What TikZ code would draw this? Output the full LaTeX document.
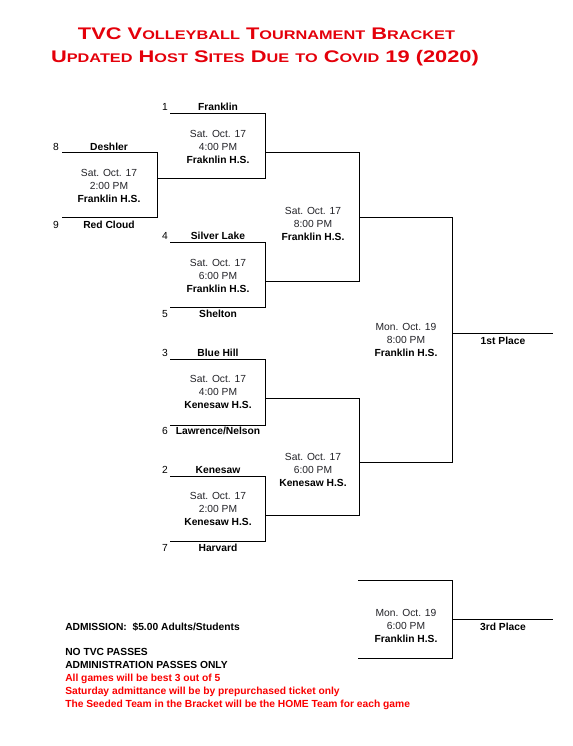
\documentclass[tikz,border=0pt]{standalone}
\usepackage{fontspec}
\setmainfont{Liberation Sans}
\usepackage{graphicx}
\definecolor{titlered}{RGB}{228,0,10}
\definecolor{notered}{RGB}{250,0,0}
\definecolor{dategray}{RGB}{35,35,40}
\newcommand\BigC[1]{{\fontsize{12.6}{14}\selectfont #1}}
\newcommand\SmC[1]{{\fontsize{9.4}{14}\selectfont #1}}
\begin{document}
\begin{tikzpicture}[x=0.75pt,y=-0.75pt,
  br/.style={line width=0.75pt,line join=miter},
  lbl/.style={inner sep=0pt,anchor=base,font=\fontsize{7.7}{9}\selectfont\bfseries},
  seed/.style={inner sep=0pt,anchor=base,font=\fontsize{7.7}{9}\selectfont},
  game/.style={inner sep=0pt,anchor=center,align=center,font=\fontsize{7.7}{9.75}\selectfont},
  note/.style={inner sep=0pt,anchor=base west,font=\fontsize{7.7}{9}\selectfont\bfseries},
  ttl/.style={inner sep=0pt,anchor=base,text=titlered,font=\fontsize{12.6}{14}\selectfont\bfseries}]
\useasboundingbox (0,0) rectangle (573,746);
% title
\node[ttl] (title1) at (266.5,39) {\scalebox{1.3}[1]{\BigC{TVC V}\SmC{OLLEYBALL} \BigC{T}\SmC{OURNAMENT} \BigC{B}\SmC{RACKET}}};
\node[ttl] (title2) at (265,62) {\scalebox{1.3}[1]{\BigC{U}\SmC{PDATED} \BigC{H}\SmC{OST} \BigC{S}\SmC{ITES} \BigC{D}\SmC{UE} \SmC{TO} \BigC{C}\SmC{OVID} \BigC{19 (2020)}}};
% bracket coordinates
\coordinate (A1) at (62,152); \coordinate (A2) at (157,152); \coordinate (A3) at (157,217); \coordinate (A4) at (62,217);
\coordinate (B1) at (170,113); \coordinate (B2) at (265,113); \coordinate (B3) at (265,178); \coordinate (B4) at (157,178);
\coordinate (Bo) at (265,152);
\coordinate (C1) at (170,242); \coordinate (C2) at (265,242); \coordinate (C3) at (265,307); \coordinate (C4) at (170,307);
\coordinate (Co) at (265,281);
\coordinate (Q1) at (359,152); \coordinate (Q2) at (359,281); \coordinate (Qo) at (359,217);
\coordinate (D1) at (170,359); \coordinate (D2) at (265,359); \coordinate (D3) at (265,425); \coordinate (D4) at (170,425);
\coordinate (Do) at (265,398);
\coordinate (E1) at (170,476); \coordinate (E2) at (265,476); \coordinate (E3) at (265,541); \coordinate (E4) at (170,541);
\coordinate (Eo) at (265,515);
\coordinate (R1) at (359,398); \coordinate (R2) at (359,515); \coordinate (Ro) at (359,462);
\coordinate (S1) at (452,217); \coordinate (S2) at (452,462); \coordinate (So) at (452,333); \coordinate (Se) at (553,333);
\coordinate (T1) at (358,580); \coordinate (T2) at (452,580); \coordinate (T3) at (452,658); \coordinate (T4) at (358,658);
\coordinate (To) at (452,619); \coordinate (Te) at (553,619);
% bracket lines
\draw[br] (A1) -- (A2) -- (A3) -- (A4);
\draw[br] (B1) -- (B2) -- (B3) -- (B4);
\draw[br] (C1) -- (C2) -- (C3) -- (C4);
\draw[br] (Bo) -- (Q1) -- (Q2) -- (Co);
\draw[br] (D1) -- (D2) -- (D3) -- (D4);
\draw[br] (E1) -- (E2) -- (E3) -- (E4);
\draw[br] (Do) -- (R1) -- (R2) -- (Eo);
\draw[br] (Qo) -- (S1) -- (S2) -- (Ro);
\draw[br] (So) -- (Se);
\draw[br] (T1) -- (T2) -- (T3) -- (T4);
\draw[br] (To) -- (Te);
% seeds and teams
\node[seed] (s8) at (56,150.6) {8};   \node[lbl] (t8) at (109,150.6) {Deshler};
\node[seed] (s9) at (56,228.6) {9};   \node[lbl] (t9) at (109,228.6) {Red Cloud};
\node[seed] (s1) at (165,110.6) {1};  \node[lbl] (t1) at (218,110.6) {Franklin};
\node[seed] (s4) at (165,239.6) {4};  \node[lbl] (t4) at (218,239.6) {Silver Lake};
\node[seed] (s5) at (165,317.6) {5};  \node[lbl] (t5) at (218,317.6) {Shelton};
\node[seed] (s3) at (165,356.6) {3};  \node[lbl] (t3) at (218,356.6) {Blue Hill};
\node[seed] (s6) at (165,434.6) {6};  \node[lbl] (t6) at (218,434.6) {Lawrence/Nelson};
\node[seed] (s2) at (165,473.6) {2};  \node[lbl] (t2) at (218,473.6) {Kenesaw};
\node[seed] (s7) at (165,551.6) {7};  \node[lbl] (t7) at (218,551.6) {Harvard};
% games
\node[game] (gA) at (109,186) {\textcolor{dategray}{Sat. Oct. 17}\\\textcolor{dategray}{2:00 PM}\\\textbf{Franklin H.S.}};
\node[game] (gB) at (218,147) {\textcolor{dategray}{Sat. Oct. 17}\\\textcolor{dategray}{4:00 PM}\\\textbf{Fraknlin H.S.}};
\node[game] (gC) at (218,275.5) {\textcolor{dategray}{Sat. Oct. 17}\\\textcolor{dategray}{6:00 PM}\\\textbf{Franklin H.S.}};
\node[game] (gQ1) at (313,224) {\textcolor{dategray}{Sat. Oct. 17}\\\textcolor{dategray}{8:00 PM}\\\textbf{Franklin H.S.}};
\node[game] (gD) at (218,392) {\textcolor{dategray}{Sat. Oct. 17}\\\textcolor{dategray}{4:00 PM}\\\textbf{Kenesaw H.S.}};
\node[game] (gE) at (218,509) {\textcolor{dategray}{Sat. Oct. 17}\\\textcolor{dategray}{2:00 PM}\\\textbf{Kenesaw H.S.}};
\node[game] (gQ2) at (313,470) {\textcolor{dategray}{Sat. Oct. 17}\\\textcolor{dategray}{6:00 PM}\\\textbf{Kenesaw H.S.}};
\node[game] (gS) at (406,340) {\textcolor{dategray}{Mon. Oct. 19}\\\textcolor{dategray}{8:00 PM}\\\textbf{Franklin H.S.}};
\node[game] (gT) at (406,626) {\textcolor{dategray}{Mon. Oct. 19}\\\textcolor{dategray}{6:00 PM}\\\textbf{Franklin H.S.}};
\node[lbl] (first) at (503,344.6) {1st Place};
\node[lbl] (third) at (503,630.6) {3rd Place};
% notes
\node[note] (n1) at (65,630.6) {ADMISSION:\ \ \$5.00 Adults/Students};
\node[note] (n2) at (65,655.6) {NO TVC PASSES};
\node[note] (n3) at (65,668.6) {ADMINISTRATION PASSES ONLY};
\node[note,text=notered] (n4) at (65,681.6) {All games will be best 3 out of 5};
\node[note,text=notered] (n5) at (65,694.6) {Saturday admittance will be by prepurchased ticket only};
\node[note,text=notered] (n6) at (65,707.6) {The Seeded Team in the Bracket will be the HOME Team for each game};
\end{tikzpicture}
\end{document}
